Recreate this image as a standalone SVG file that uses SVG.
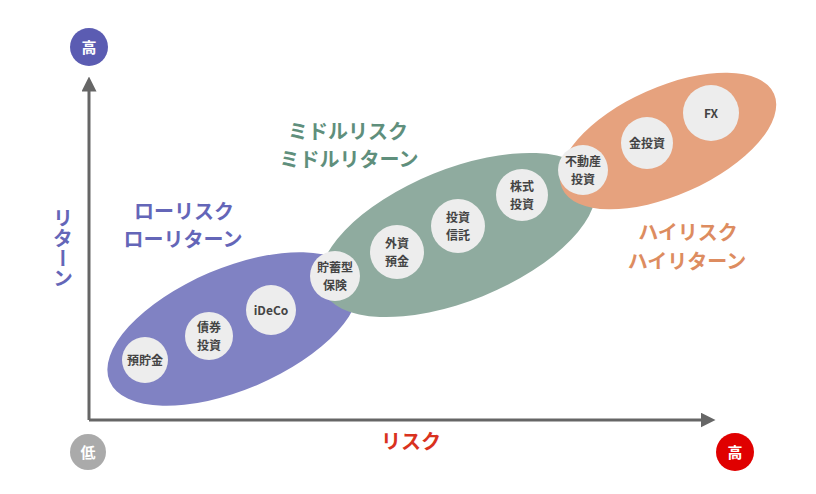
<svg xmlns="http://www.w3.org/2000/svg" width="816" height="494" viewBox="0 0 816 494">
<style>
.item circle{fill:#ededed;}
.item text{font-family:"Noto Sans CJK JP","Noto Sans",sans-serif;font-size:12px;font-weight:bold;fill:#444;text-anchor:middle;}
.lbl{font-family:"Noto Sans CJK JP",sans-serif;font-size:20px;font-weight:bold;text-anchor:middle;}
.axis{stroke:#666;stroke-width:3;fill:none;}
.badge text{font-family:"Noto Sans CJK JP",sans-serif;font-size:15px;font-weight:bold;fill:#fff;text-anchor:middle;}
</style>
<defs>
<marker id="arr" viewBox="0 0 10 10" refX="5" refY="5" markerWidth="5" markerHeight="5" orient="auto" markerUnits="strokeWidth">
<path d="M0,0 L10,5 L0,10 z" fill="#666"/>
</marker>
</defs>
<rect width="816" height="494" fill="#fff"/>
<g id="groups">
<ellipse id="low" cx="233" cy="329" rx="134" ry="61" transform="rotate(-23 233 329)" fill="#8082c3"/>
<ellipse id="middle" cx="458" cy="235" rx="146" ry="66" transform="rotate(-22 458 235)" fill="#8fab9f"/>
<ellipse id="high" cx="668" cy="141" rx="116" ry="54" transform="rotate(-24 668 141)" fill="#e6a27e"/>
</g>
<g id="connectors">
<path class="axis" d="M89,420 V84" marker-end="url(#arr)"/>
<path class="axis" d="M89,420 H708" marker-end="url(#arr)"/>
</g>
<g id="badge-top" class="badge"><circle cx="89" cy="47" r="19" fill="#5b5cb2"/><text x="89" y="52.5">高</text></g>
<g id="badge-low" class="badge"><circle cx="88" cy="452" r="18" fill="#aaaaaa"/><text x="88" y="457.5">低</text></g>
<g id="badge-high" class="badge"><circle cx="735" cy="452" r="19" fill="#e00000"/><text x="735" y="457.5">高</text></g>
<text class="lbl" x="411" y="449" fill="#d9321e" font-size="18">リスク</text>
<text class="lbl" x="63" y="248" fill="#6466b8" style="writing-mode:vertical-rl;text-orientation:mixed;" dominant-baseline="central">リターン</text>
<g id="label-low"><text class="lbl" x="184" y="219" fill="#6466b8">ローリスク</text><text class="lbl" x="183" y="247" fill="#6466b8">ローリターン</text></g>
<g id="label-middle"><text class="lbl" x="348" y="139" fill="#5f8f7c">ミドルリスク</text><text class="lbl" x="349" y="167" fill="#5f8f7c">ミドルリターン</text></g>
<g id="label-high"><text class="lbl" x="688" y="240" fill="#dd8c60">ハイリスク</text><text class="lbl" x="687" y="269" fill="#dd8c60">ハイリターン</text></g>
<g id="n1" class="item"><circle cx="145" cy="360" r="23"/><text x="145" y="364.5">預貯金</text></g>
<g id="n2" class="item"><circle cx="209" cy="336" r="24"/><text x="209" y="332">債券</text><text x="209" y="350">投資</text></g>
<g id="n3" class="item"><circle cx="271" cy="310" r="25"/><text x="271" y="314.5">iDeCo</text></g>
<g id="n4" class="item"><circle cx="335" cy="276" r="25"/><text x="335" y="272">貯蓄型</text><text x="335" y="290">保険</text></g>
<g id="n5" class="item"><circle cx="397" cy="252" r="27"/><text x="397" y="248">外資</text><text x="397" y="266">預金</text></g>
<g id="n6" class="item"><circle cx="458" cy="226" r="27"/><text x="458" y="222">投資</text><text x="458" y="240">信託</text></g>
<g id="n7" class="item"><circle cx="522" cy="195" r="26"/><text x="522" y="191">株式</text><text x="522" y="209">投資</text></g>
<g id="n8" class="item"><circle cx="583" cy="170" r="25"/><text x="583" y="166">不動産</text><text x="583" y="184">投資</text></g>
<g id="n9" class="item"><circle cx="647" cy="143" r="26"/><text x="647" y="147.5">金投資</text></g>
<g id="n10" class="item"><circle cx="711" cy="113" r="28"/><text x="711" y="117.5">FX</text></g>
</svg>
